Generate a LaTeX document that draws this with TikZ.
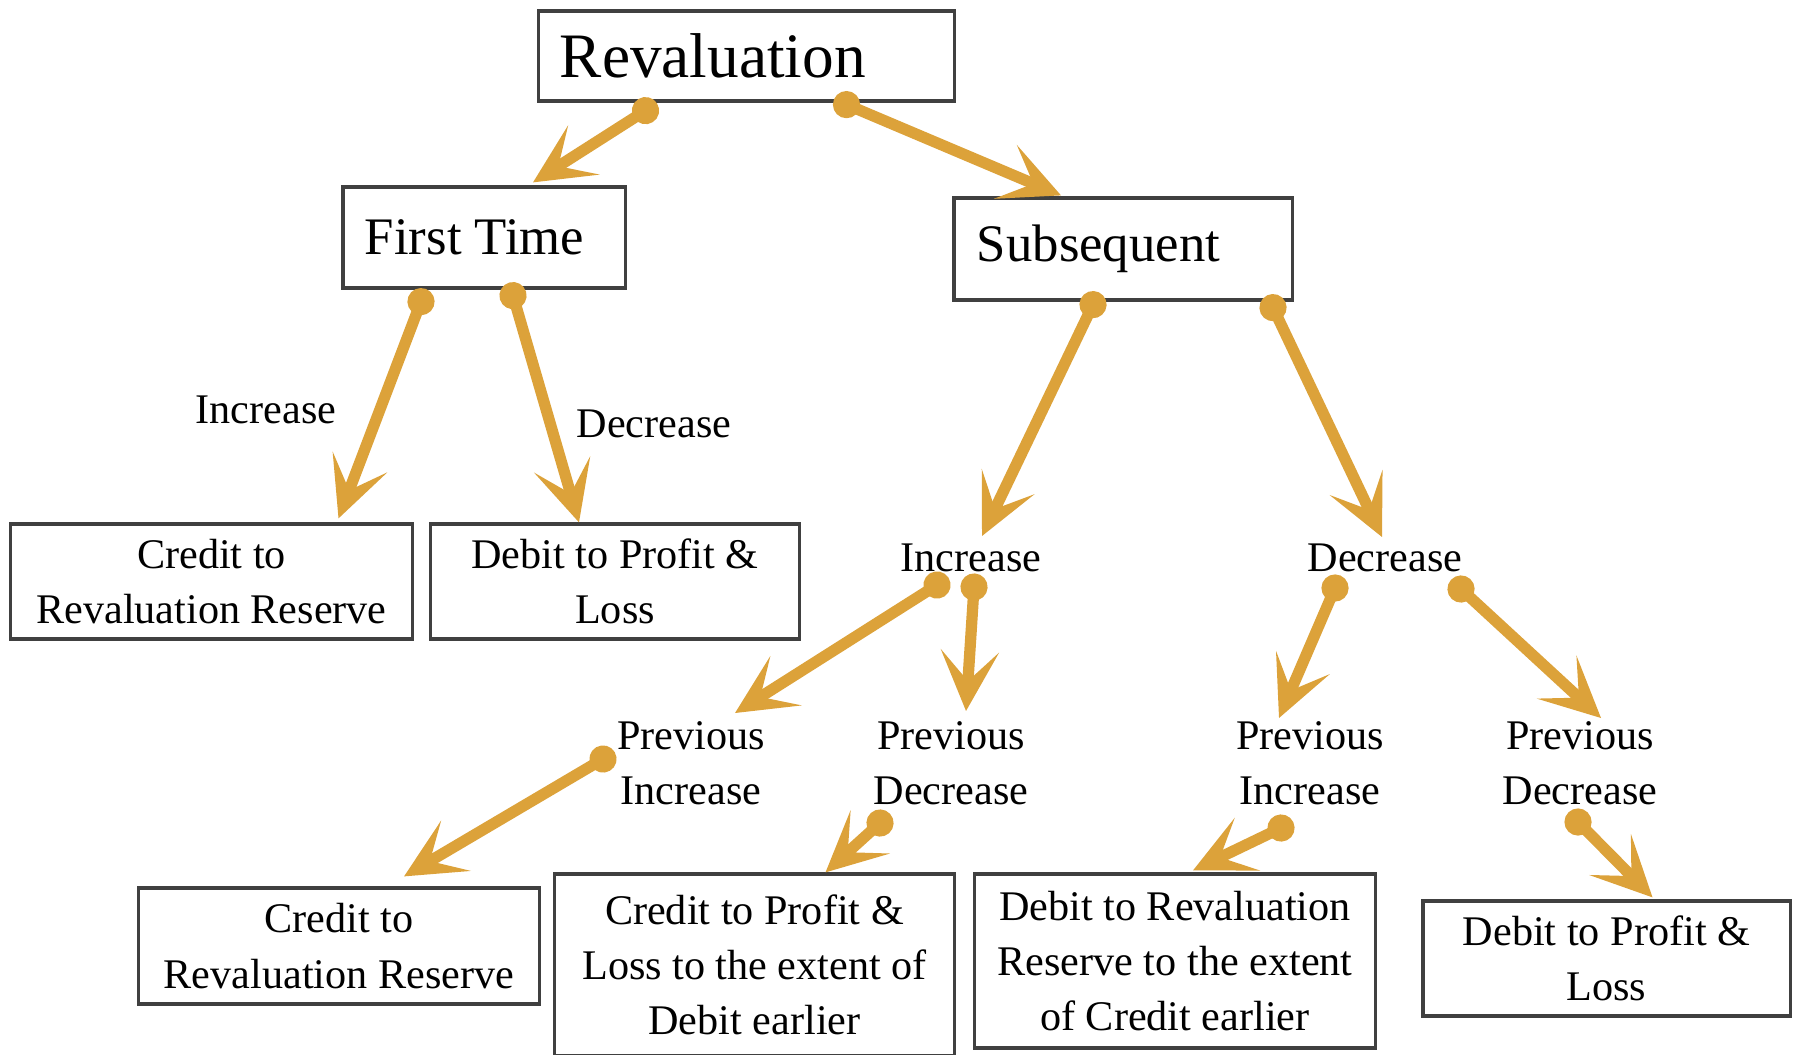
\documentclass[tikz,border=0pt]{standalone}
\usepackage{fontspec}
\setmainfont{Liberation Serif}
\usetikzlibrary{arrows.meta,calc}
\definecolor{arrowgold}{RGB}{220,162,58}
\newcommand{\bodyfont}{\fontsize{12}{15.7}\selectfont}
\tikzset{
  box/.style={draw=black!75, line width=0.9pt, align=center, inner sep=0pt, font=\bodyfont},
  headbox/.style={box, align=flush left, minimum height=1.01cm},
  plain/.style={align=center, inner sep=0pt, font=\bodyfont},
  flow/.style={arrowgold, line width=3.2pt,
    {Circle[length=0.27cm]}-{Stealth[length=0.6cm,width=0.58cm,inset=0.3cm]},
    shorten <=-0.135cm},
}

\begin{document}
\begin{tikzpicture}[x=0.01cm, y=-0.01cm]
\useasboundingbox (0,0) rectangle (1798,1054);

\node (rev) at (746.5,56) [headbox, font=\fontsize{18}{22}\selectfont, text width=3.73cm, inner xsep=0.21cm, minimum height=0.9cm] {Revaluation};
\node (ft) at (484,237.5) [headbox, font=\fontsize{15}{18}\selectfont, text width=2.38cm, inner xsep=0.22cm] {First Time};
\node (sub) at (1123,249) [headbox, font=\fontsize{15}{18}\selectfont, text width=2.92cm, inner xsep=0.23cm, minimum height=1.02cm] {Subsequent};

\node (crl) at (211.5,581.5) [box, minimum width=4.01cm, minimum height=1.15cm] {Credit to\\Revaluation Reserve};
\node (dpl) at (615,581.5) [box, minimum width=3.68cm, minimum height=1.15cm] {Debit to Profit \&\\Loss};
\node (lblinc) at (266,410) [plain] {Increase};
\node (lbldec) at (654,424) [plain] {Decrease};

\node (inc) at (971,558) [plain] {Increase};
\node (dec) at (1385,558) [plain] {Decrease};

\node (pil) at (691,763) [plain] {Previous\\Increase};
\node (pdl) at (951,763) [plain] {Previous\\Decrease};
\node (pir) at (1310,763) [plain] {Previous\\Increase};
\node (pdr) at (1580,763) [plain] {Previous\\Decrease};

\node (crb) at (339,946) [box, minimum width=4cm, minimum height=1.16cm] {Credit to\\Revaluation Reserve};
\node (cpl) at (754.5,965) [box, minimum width=3.99cm, minimum height=1.82cm] {Credit to Profit \&\\Loss to the extent of\\Debit earlier};
\node (drr) at (1175,961) [box, minimum width=4cm, minimum height=1.74cm] {Debit to Revaluation\\Reserve to the extent\\of Credit earlier};
\node (dpr) at (1606.5,958.5) [box, minimum width=3.67cm, minimum height=1.15cm] {Debit to Profit \&\\Loss};

\draw[flow] ($(rev.south)+(-101,8)$) -- ($(ft.north)+(49,-3)$);
\draw[flow] ($(rev.south)+(100,2)$) -- ($(sub.north)+(-62,-1)$);

\draw[flow] ($(ft.south)+(-63,12)$) -- ($(crl.north)+(127,-4)$);
\draw[flow] ($(ft.south)+(29,6)$) -- ($(dpl.north)+(-36,0)$);

\draw[flow] ($(sub.south)+(-30,3)$) -- ($(inc)+(11,-22)$);
\draw[flow] ($(sub.south)+(150,6)$) -- ($(dec)+(-3,-21)$);

\draw[flow] ($(inc)+(-34,27)$) -- ($(pil)+(44,-50)$);
\draw[flow] ($(inc)+(3,29)$) -- ($(pdl)+(15,-52)$);
\draw[flow] ($(dec)+(-50,30)$) -- ($(pir)+(-31,-45)$);
\draw[flow] ($(dec)+(76,31)$) -- ($(pdr)+(21,-45)$);

\draw[flow] ($(pil)+(-88,-4)$) -- ($(crb.north)+(65,-10)$);
\draw[flow] ($(pdl)+(-71,60)$) -- ($(cpl.north)+(71,0)$);
\draw[flow] ($(pir)+(-29,65)$) -- ($(drr.north)+(18,-2)$);
\draw[flow] ($(pdr)+(-2,59)$) -- ($(dpr.north)+(46,-2)$);

\end{tikzpicture}
\end{document}
